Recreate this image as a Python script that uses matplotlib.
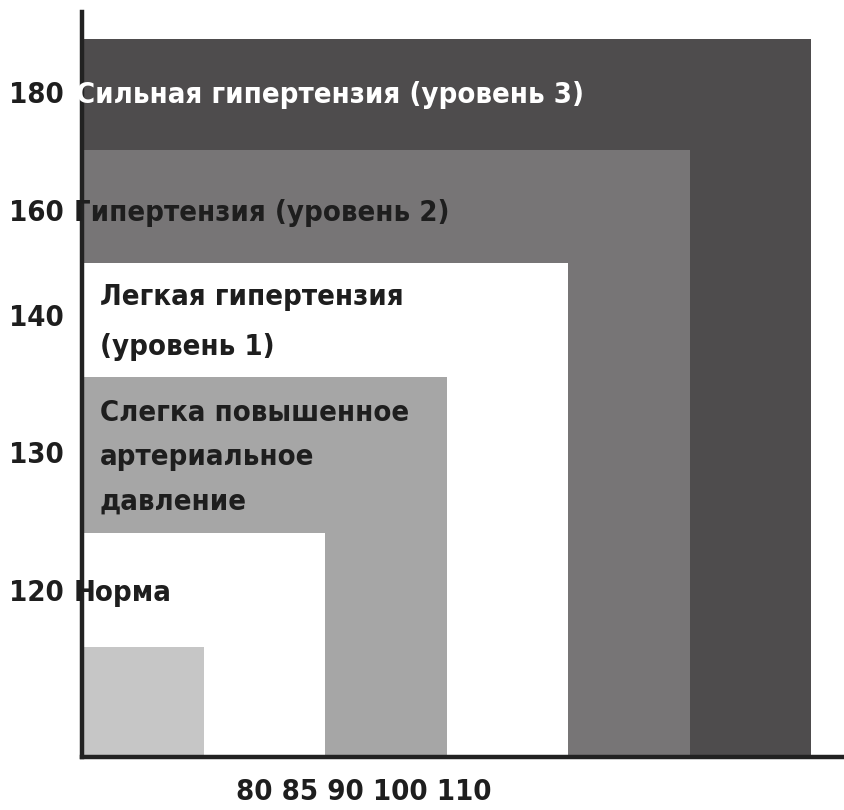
import matplotlib
matplotlib.use('Agg')
import matplotlib.pyplot as plt

# Blood pressure categories (systolic / diastolic thresholds)
systolic = ['180', '160', '140', '130', '120']
diastolic = ['80', '85', '90', '100', '110']

# Nested zones, largest first: width and height in chart units
zone_widths = [6, 5, 4, 3, 2, 1]
zone_heights = [6.35, 5.37, 4.37, 3.36, 1.98, 0.97]
zone_colors = ['#4e4c4d', '#777576', '#ffffff', '#a6a6a6', '#ffffff', '#c6c6c6']

W, H = 845, 810
plt.rcParams['font.family'] = ['DejaVu Sans']
plt.rcParams['font.weight'] = 'bold'
plt.rcParams['font.stretch'] = 'condensed'

fig = plt.figure(figsize=(W / 100, H / 100), dpi=100)
fig.patch.set_facecolor('white')

def fx(x):
    return x / W

def fy(y):
    return 1 - y / H

ax = fig.add_axes([fx(82), fy(757), fx(843) - fx(82), fy(12) - fy(757)])
ax.set_xlim(0, (843 - 82) / 121.5)
ax.set_ylim(0, (757 - 12) / 113.0)

for w, h, c in zip(zone_widths, zone_heights, zone_colors):
    ax.bar(0, h, width=w, align='edge', color=c, edgecolor='none', zorder=2)

for side in ['top', 'right']:
    ax.spines[side].set_visible(False)
for side in ['left', 'bottom']:
    ax.spines[side].set_linewidth(3.2)
    ax.spines[side].set_color('#222222')
    ax.spines[side].set_zorder(5)
ax.set_xticks([])
ax.set_yticks([])

fs = 21
dark = '#1e1e1e'

# Systolic values on the left
sys_y = [95, 213, 318, 455, 593]
for lab, y in zip(systolic, sys_y):
    fig.text(fx(9), fy(y), lab, fontsize=fs, color=dark, va='center', ha='left')

# Zone names
fig.text(fx(76), fy(95), 'Сильная гипертензия (уровень 3)', fontsize=fs,
         color='white', va='center', ha='left', zorder=10)
fig.text(fx(74), fy(213), 'Гипертензия (уровень 2)', fontsize=fs,
         color=dark, va='center', ha='left', zorder=10)
fig.text(fx(100), fy(297), 'Легкая гипертензия', fontsize=fs,
         color=dark, va='center', ha='left', zorder=10)
fig.text(fx(100), fy(347), '(уровень 1)', fontsize=fs,
         color=dark, va='center', ha='left', zorder=10)
fig.text(fx(100), fy(413), 'Слегка повышенное', fontsize=fs,
         color=dark, va='center', ha='left', zorder=10)
fig.text(fx(100), fy(457), 'артериальное', fontsize=fs,
         color=dark, va='center', ha='left', zorder=10)
fig.text(fx(100), fy(502), 'давление', fontsize=fs,
         color=dark, va='center', ha='left', zorder=10)
fig.text(fx(74), fy(593), 'Норма', fontsize=fs,
         color=dark, va='center', ha='left', zorder=10)

# Diastolic values under the axis
fig.text(fx(364), fy(792), ' '.join(diastolic), fontsize=fs,
         color=dark, va='center', ha='center')

fig.savefig('out.png', dpi=100)
